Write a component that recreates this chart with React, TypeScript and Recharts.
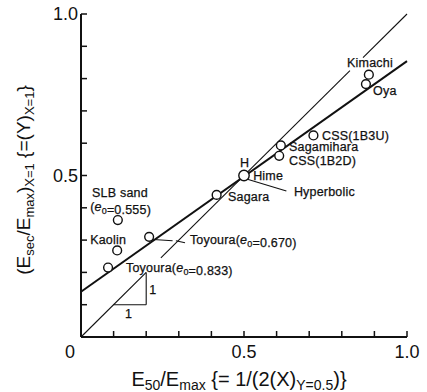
import React from "react";
import { ReferenceLine, Scatter, ScatterChart, XAxis, YAxis } from "recharts";

const tickValues = [0, 0.1, 0.2, 0.3, 0.4, 0.5, 0.6, 0.7, 0.8, 0.9, 1.0];
const labelledX = [0, 0.5, 1.0];
const labelledY = [0.5, 1.0];

// measured samples: x = E50/Emax, y = Esec/Emax at X=1
const samples = [
  { name: "Kimachi", x: 0.883, y: 0.812 },
  { name: "Oya", x: 0.874, y: 0.783 },
  { name: "CSS(1B3U)", x: 0.713, y: 0.624 },
  { name: "Sagamihara", x: 0.613, y: 0.593 },
  { name: "CSS(1B2D)", x: 0.608, y: 0.561 },
  { name: "Hime", x: 0.5, y: 0.5 },
  { name: "Sagara", x: 0.416, y: 0.44 },
  { name: "SLB sand", x: 0.113, y: 0.362 },
  { name: "Toyoura 0.670", x: 0.209, y: 0.31 },
  { name: "Kaolin", x: 0.111, y: 0.268 },
  { name: "Toyoura 0.833", x: 0.083, y: 0.215 },
];

// best fit through the samples
const fitLine = [
  { x: 0, y: 0.14 },
  { x: 1, y: 0.854 },
];

// 1:1 line, broken where text sits on it
const diagonalParts = [
  [0, 0.2],
  [0.245, 0.825],
  [0.865, 1],
];

const slopeTriangle = [
  { x: 0.1, y: 0.1 },
  { x: 0.2, y: 0.1 },
  { x: 0.2, y: 0.2 },
];

const leaders = [
  [{ x: 0.508, y: 0.489 }, { x: 0.63, y: 0.452 }],
  [{ x: 0.222, y: 0.302 }, { x: 0.281, y: 0.298 }],
  [{ x: 0.291, y: 0.298 }, { x: 0.319, y: 0.292 }],
];

const notes = [
  { text: "Kimachi", x: 0.816, y: 0.836 },
  { text: "Oya", x: 0.896, y: 0.749 },
  { text: "CSS(1B3U)", x: 0.739, y: 0.61 },
  { text: "Sagamihara", x: 0.638, y: 0.576 },
  { text: "CSS(1B2D)", x: 0.638, y: 0.533 },
  { text: "H", x: 0.488, y: 0.526 },
  { text: "Hime", x: 0.528, y: 0.486 },
  { text: "Hyperbolic", x: 0.653, y: 0.437 },
  { text: "Sagara", x: 0.451, y: 0.421 },
  { text: "SLB sand", x: 0.034, y: 0.433 },
  { text: "(e_0=0.555)", x: 0.028, y: 0.39 },
  { text: "Kaolin", x: 0.028, y: 0.288 },
  { text: "Toyoura(e_0=0.670)", x: 0.334, y: 0.288 },
  { text: "Toyoura(e_0=0.833)", x: 0.138, y: 0.201 },
  { text: "1", x: 0.135, y: 0.059 },
  { text: "1", x: 0.209, y: 0.133 },
];

const FONT = '"Liberation Sans", Arial, Helvetica, sans-serif';
const INK = "#111";

function richText(text: string) {
  return text.split(/(e_0)/).map((part, i) =>
    part === "e_0" ? (
      <React.Fragment key={i}>
        <tspan fontStyle="italic">e</tspan>
        <tspan fontSize={9} dy={3}>0</tspan>
        <tspan dy={-3}>{""}</tspan>
      </React.Fragment>
    ) : (
      <tspan key={i}>{part}</tspan>
    )
  );
}

function NoteShape(props: any) {
  const { cx, cy, payload } = props;
  return (
    <text
      x={cx}
      y={cy}
      fontFamily={FONT}
      fontSize={12.5}
      letterSpacing={0.2}
      fill={INK}
      stroke={INK}
      strokeWidth={0.25}
    >
      {richText(payload.text)}
    </text>
  );
}

function CircleShape(props: any) {
  const { cx, cy, payload } = props;
  const r = payload.name === "Hime" ? 5.2 : 4.4;
  return <circle cx={cx} cy={cy} r={r} fill="#fff" stroke={INK} strokeWidth={1.4} />;
}

function XTick(props: any) {
  const { x, y, payload } = props;
  const v = payload.value;
  if (!labelledX.includes(v)) return null;
  return (
    <text x={v === 0 ? x - 11 : x} y={y} dy="0.71em" textAnchor="middle" fontFamily={FONT} fontSize={18} fill={INK}>
      {v === 0 ? "0" : v.toFixed(1)}
    </text>
  );
}

function YTick(props: any) {
  const { x, y, payload } = props;
  const v = payload.value;
  if (!labelledY.includes(v)) return null;
  return (
    <text x={x} y={y} dy="0.355em" textAnchor="end" fontFamily={FONT} fontSize={18} fill={INK}>
      {v.toFixed(1)}
    </text>
  );
}

function XTitle() {
  return (
    <text x={239} y={386} textAnchor="middle" fontFamily={FONT} fontSize={20} fill={INK}>
      <tspan>E</tspan>
      <tspan fontSize={14} dy={4}>50</tspan>
      <tspan dy={-4}>/E</tspan>
      <tspan fontSize={14} dy={4}>max</tspan>
      <tspan dy={-4}>{" {= 1/(2(X)"}</tspan>
      <tspan fontSize={14} dy={4}>Y=0.5</tspan>
      <tspan dy={-4}>{")}"}</tspan>
    </text>
  );
}

function YTitle() {
  return (
    <text
      x={30}
      y={180}
      transform="rotate(-90, 30, 180)"
      textAnchor="middle"
      fontFamily={FONT}
      fontSize={19}
      fill={INK}
    >
      <tspan>(E</tspan>
      <tspan fontSize={13} dy={4}>sec</tspan>
      <tspan dy={-4}>/E</tspan>
      <tspan fontSize={13} dy={4}>max</tspan>
      <tspan dy={-4}>)</tspan>
      <tspan fontSize={13} dy={4}>X=1</tspan>
      <tspan dy={-4}>{" {=(Y)"}</tspan>
      <tspan fontSize={13} dy={4}>X=1</tspan>
      <tspan dy={-4}>{"}"}</tspan>
    </text>
  );
}

const axisLine = { stroke: INK, strokeWidth: 2 };
const tickLine = { stroke: INK, strokeWidth: 1.5 };

export default function App() {
  return (
    <div style={{ position: "absolute", left: 0, top: 0, width: 427, height: 392, background: "#fff" }}>
      <ScatterChart width={427} height={392} margin={{ top: 14, right: 20, left: 0, bottom: 0 }}>
        <XAxis
          xAxisId={0}
          type="number"
          dataKey="x"
          domain={[0, 1]}
          ticks={tickValues}
          interval={0}
          height={55}
          tickSize={-6}
          tickMargin={14}
          axisLine={axisLine}
          tickLine={tickLine}
          tick={<XTick />}
          label={{ content: () => <XTitle /> }}
        />
        <XAxis
          xAxisId="top"
          orientation="top"
          type="number"
          dataKey="x"
          domain={[0, 1]}
          ticks={tickValues}
          interval={0}
          height={0}
          tickSize={-6}
          axisLine={axisLine}
          tickLine={tickLine}
          tick={false}
        />
        <YAxis
          yAxisId={0}
          type="number"
          dataKey="y"
          domain={[0, 1]}
          ticks={tickValues}
          interval={0}
          width={81}
          tickSize={-6}
          tickMargin={9}
          axisLine={axisLine}
          tickLine={tickLine}
          tick={<YTick />}
          label={{ content: () => <YTitle /> }}
        />
        <YAxis
          yAxisId="right"
          orientation="right"
          type="number"
          dataKey="y"
          domain={[0, 1]}
          ticks={tickValues}
          interval={0}
          width={0}
          tickSize={-6}
          axisLine={axisLine}
          tickLine={tickLine}
          tick={false}
        />

        <ReferenceLine segment={fitLine} stroke={INK} strokeWidth={2} />
        {diagonalParts.map(([a, b], i) => (
          <ReferenceLine key={`d${i}`} segment={[{ x: a, y: a }, { x: b, y: b }]} stroke={INK} strokeWidth={1.1} />
        ))}
        <ReferenceLine segment={[slopeTriangle[0], slopeTriangle[1]]} stroke={INK} strokeWidth={1.1} />
        <ReferenceLine segment={[slopeTriangle[1], slopeTriangle[2]]} stroke={INK} strokeWidth={1.1} />
        {leaders.map((seg, i) => (
          <ReferenceLine key={`l${i}`} segment={seg} stroke={INK} strokeWidth={1.1} />
        ))}

        <Scatter data={samples} shape={<CircleShape />} isAnimationActive={false} />
        <Scatter data={notes} shape={<NoteShape />} isAnimationActive={false} />
      </ScatterChart>
    </div>
  );
}
